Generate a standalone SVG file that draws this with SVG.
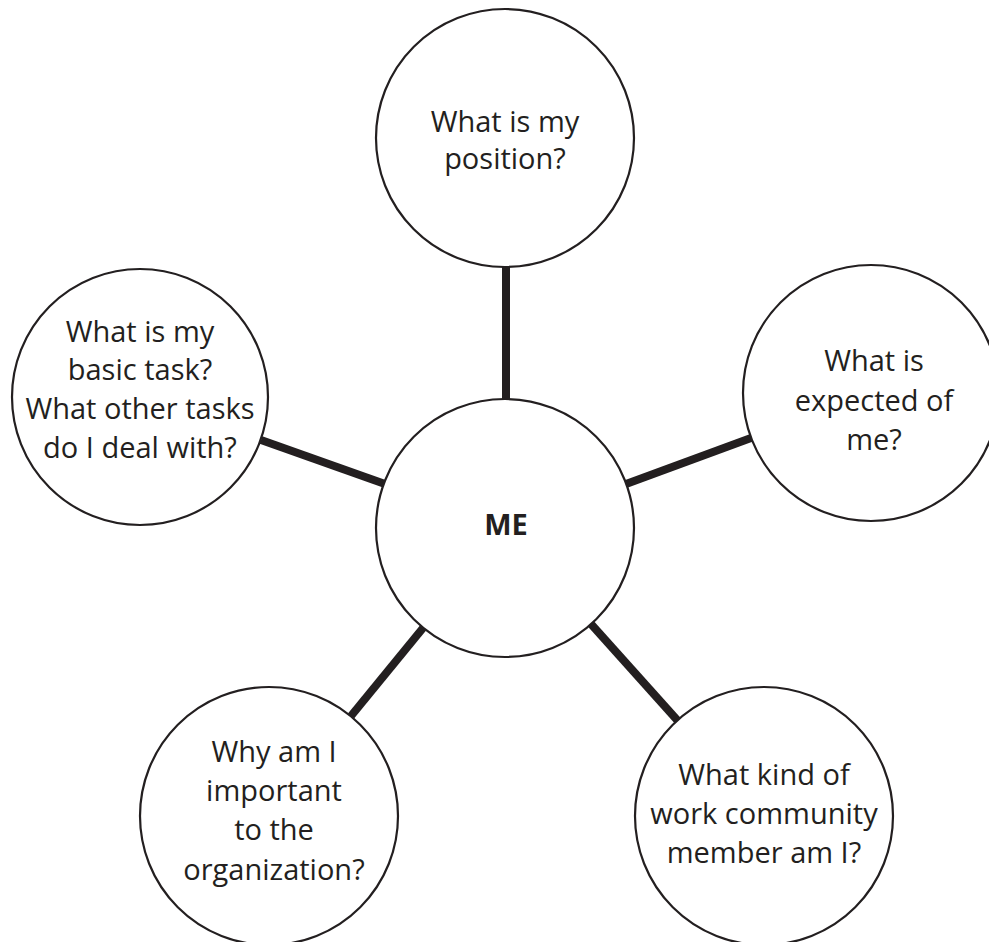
<svg xmlns="http://www.w3.org/2000/svg" width="989" height="942" viewBox="0 0 989 942">
  <style>
    .bubble { fill: #ffffff; stroke: #231f20; stroke-width: 2.2; }
    .spoke { stroke: #231f20; stroke-width: 8; fill: none; }
    .label { font-family: "Open Sans", "Noto Sans", "Liberation Sans", sans-serif; font-size: 29px; fill: #231f20; text-anchor: middle; }
    .hub { font-weight: bold; }
  </style>
  <rect width="989" height="942" fill="#ffffff"/>

  <!-- spokes from the hub to each question bubble -->
  <g id="connectors">
    <line class="spoke" x1="506" y1="266" x2="506" y2="400"/>
    <line class="spoke" x1="261" y1="440" x2="385" y2="484"/>
    <line class="spoke" x1="626" y1="484" x2="751" y2="438"/>
    <line class="spoke" x1="423" y1="628" x2="351" y2="716"/>
    <line class="spoke" x1="591" y1="624" x2="678" y2="721"/>
  </g>

  <g id="me">
    <circle class="bubble" cx="505" cy="528" r="129"/>
    <text class="label hub" x="506" y="535">ME</text>
  </g>

  <g id="position">
    <circle class="bubble" cx="505" cy="138" r="129"/>
    <text class="label" x="505" y="132">What is my</text>
    <text class="label" x="505" y="169">position?</text>
  </g>

  <g id="tasks">
    <circle class="bubble" cx="140" cy="397" r="128"/>
    <text class="label" x="140" y="342">What is my</text>
    <text class="label" x="140" y="380">basic task?</text>
    <text class="label" x="140" y="419">What other tasks</text>
    <text class="label" x="140" y="458">do I deal with?</text>
  </g>

  <g id="expected">
    <circle class="bubble" cx="871" cy="393" r="128"/>
    <text class="label" x="874" y="371">What is</text>
    <text class="label" x="874" y="411">expected of</text>
    <text class="label" x="874" y="450">me?</text>
  </g>

  <g id="important">
    <circle class="bubble" cx="269" cy="816" r="129"/>
    <text class="label" x="274" y="762">Why am I</text>
    <text class="label" x="274" y="801">important</text>
    <text class="label" x="274" y="840">to the</text>
    <text class="label" x="274" y="880">organization?</text>
  </g>

  <g id="community">
    <circle class="bubble" cx="764" cy="816" r="129"/>
    <text class="label" x="764" y="785">What kind of</text>
    <text class="label" x="764" y="824">work community</text>
    <text class="label" x="764" y="863">member am I?</text>
  </g>
</svg>
